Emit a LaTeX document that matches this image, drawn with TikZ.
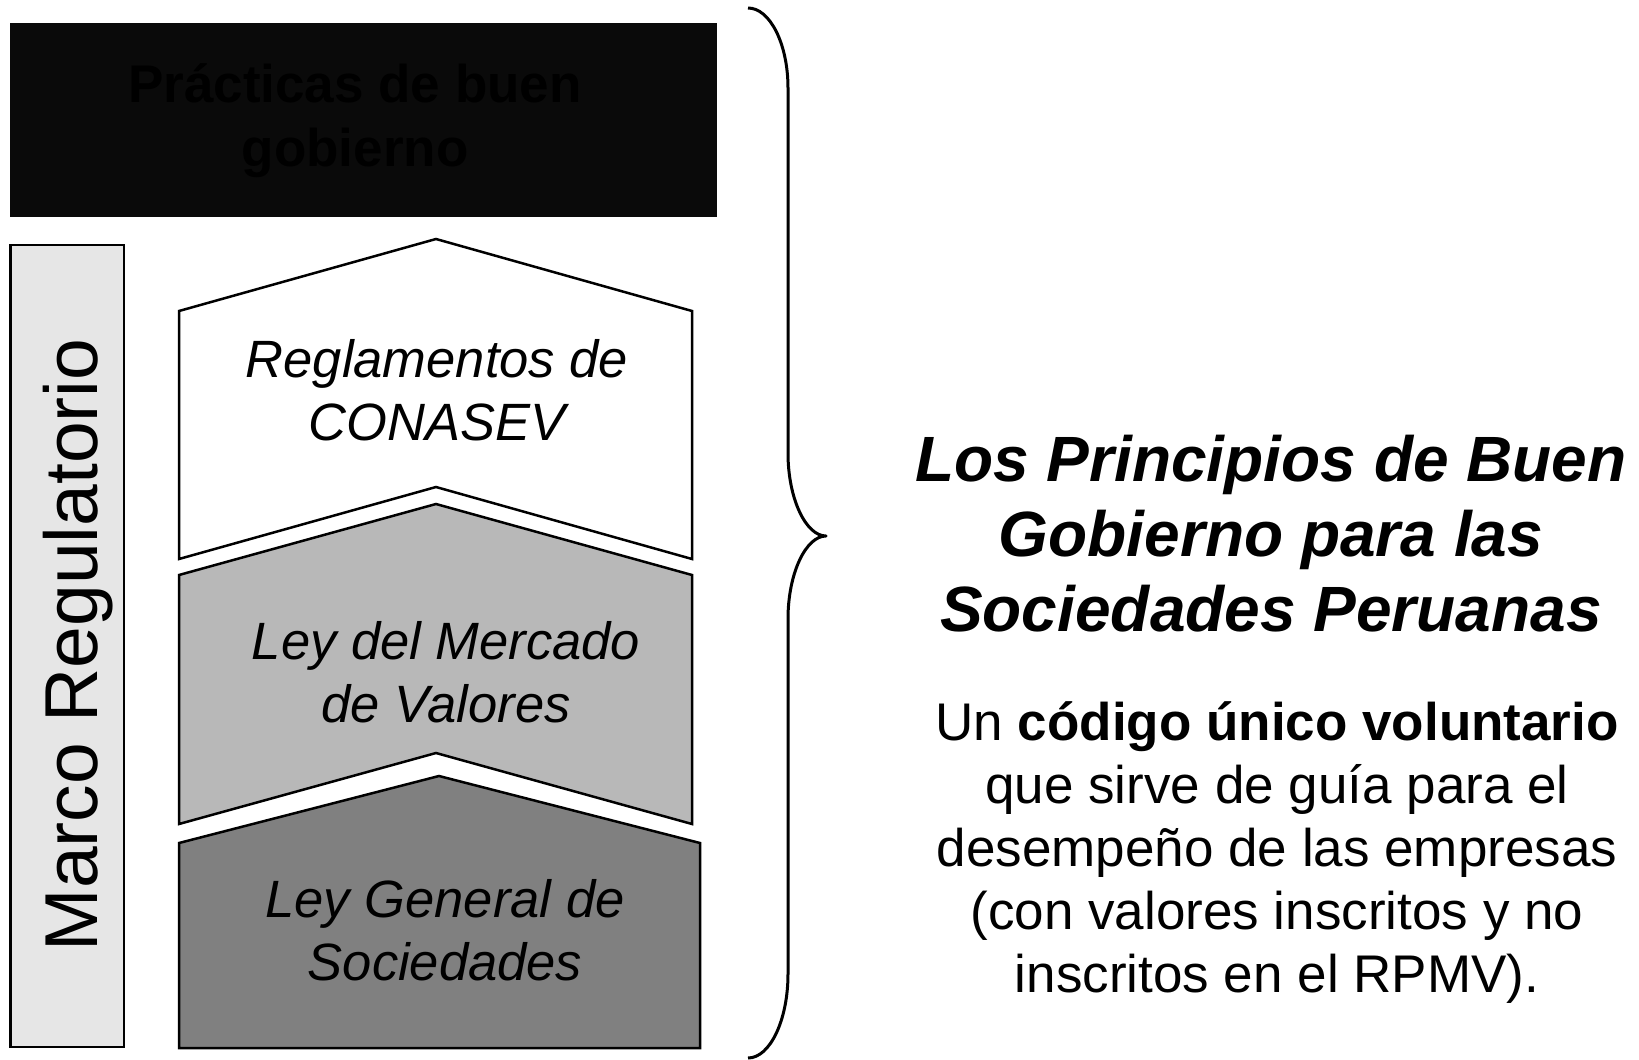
\documentclass[tikz,border=0pt]{standalone}
\usepackage{fontspec}
\setmainfont{Liberation Sans}
\definecolor{boxblack}{RGB}{10,10,10}
\definecolor{marcogray}{RGB}{230,230,230}
\definecolor{midgray}{RGB}{184,184,184}
\definecolor{darkgray}{RGB}{128,128,128}
\begin{document}
\begin{tikzpicture}[x=1pt,y=-1pt,
  chev/.style={draw=black,line width=2.5pt,line join=miter},
  chevtext/.style={anchor=base,align=center,font=\itshape\fontsize{52.5}{63}\selectfont},
  bracepath/.style={draw=black,line width=3pt,line join=round}]
\useasboundingbox (0,0) rectangle (1639,1060);
% top black box
\fill[boxblack] (10,23) rectangle (717,217);
\node[anchor=base,align=center,text=black,font=\bfseries\fontsize{53}{64}\selectfont] (practicas) at (355,166) {Prácticas de buen\\gobierno};
% marco regulatorio
\draw[fill=marcogray,line width=2.5pt] (10.5,245) rectangle (124,1047);
\node[rotate=90,anchor=base,font=\fontsize{75}{90}\selectfont] (marco) at (97,645) {Marco Regulatorio};
% chevrons
\draw[chev,fill=white] (179,311) -- (436,239) -- (692,311) -- (692,559) -- (436,487) -- (179,559) -- cycle;
\draw[chev,fill=midgray] (179,575) -- (436,504) -- (692,575) -- (692,824) -- (436,753) -- (179,824) -- cycle;
\draw[chev,fill=darkgray] (179,843) -- (439,776) -- (700,843) -- (700,1048) -- (179,1048) -- cycle;
\node[chevtext] (reglamentos) at (437,440) {Reglamentos de\\CONASEV};
\node[chevtext] (leymercado) at (446,722) {Ley del Mercado\\de Valores};
\node[chevtext] (leygeneral) at (445,980) {Ley General de\\Sociedades};
% brace
\draw[bracepath] (748,8) .. controls (770,8) and (788,44) .. (788,88) -- (788,453)
  .. controls (788,499) and (806,536) .. (826,536)
  .. controls (806,536) and (788,573) .. (788,619) -- (788,974)
  .. controls (788,1020) and (770,1058) .. (748,1058);
% right text
\node[anchor=base,align=center,font=\bfseries\itshape\fontsize{64}{75}\selectfont] (titulo) at (1271,631) {Los Principios de Buen\\Gobierno para las\\Sociedades Peruanas};
\node[anchor=base,align=center,font=\fontsize{53}{63}\selectfont] (codigo) at (1277,992) {Un \textbf{código único voluntario}\\que sirve de guía para el\\desempeño de las empresas\\(con valores inscritos y no\\inscritos en el RPMV).};
\end{tikzpicture}
\end{document}
